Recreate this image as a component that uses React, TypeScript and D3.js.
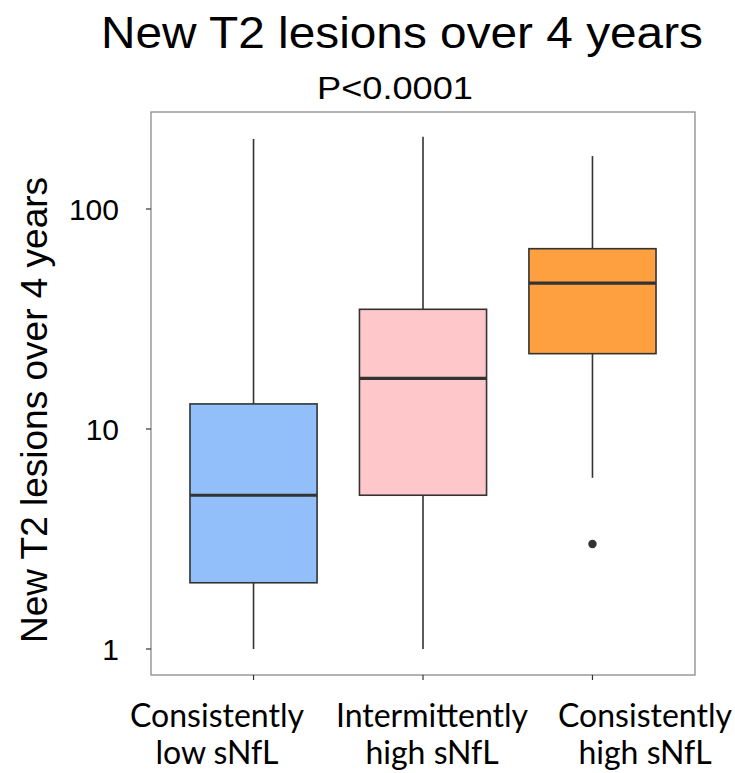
import React from "react";
import * as d3 from "d3";

// Group labels (two lines each) and five-number summaries per group
const groups = ["Consistently low sNfL", "Intermittently high sNfL", "Consistently high sNfL"];
const groupLines = [
  ["Consistently", "low sNfL"],
  ["Intermittently", "high sNfL"],
  ["Consistently", "high sNfL"],
];
const whiskerLow = [1, 1, 6];
const q1 = [2, 5, 22];
const median = [5, 17, 46];
const q3 = [13, 35, 66];
const whiskerHigh = [208, 213, 174];
const outliers = [[], [], [3]];
const fills = ["#92BFF9", "#FEC7C9", "#FFA040"];
const yTicks = [1, 10, 100];

const W = 735;
const H = 773;
const frame = { left: 151, right: 695, top: 112, bottom: 675 };
const labelCenters = [217, 432, 645];

export default function App() {
  const y = d3.scaleLog().domain([1, 100]).range([649, 209]);
  const x = d3
    .scalePoint<string>()
    .domain(groups)
    .range([frame.left, frame.right])
    .padding(0.605);
  const boxW = x.step() * 0.75;
  const stroke = "#333333";

  return (
    <svg
      width={W}
      height={H}
      style={{ position: "absolute", left: 0, top: 0, background: "#fff" }}
    >
      <text
        x={402}
        y={48}
        textAnchor="middle"
        fontFamily="Liberation Sans, Arial, sans-serif"
        fontSize={44}
        textLength={602}
        lengthAdjust="spacingAndGlyphs"
        fill="#000"
      >
        New T2 lesions over 4 years
      </text>
      <text
        x={395}
        y={99}
        textAnchor="middle"
        fontFamily="Liberation Sans, Arial, sans-serif"
        fontSize={32}
        textLength={156}
        lengthAdjust="spacingAndGlyphs"
        fill="#000"
      >
        P&lt;0.0001
      </text>
      <text
        transform={`translate(47,410) rotate(-90)`}
        textAnchor="middle"
        fontFamily="Liberation Sans, Arial, sans-serif"
        fontSize={37}
        fill="#000"
      >
        New T2 lesions over 4 years
      </text>

      {/* plot frame */}
      <rect
        x={frame.left}
        y={frame.top}
        width={frame.right - frame.left}
        height={frame.bottom - frame.top}
        fill="none"
        stroke="#808080"
        strokeWidth={1.2}
      />

      {/* y axis ticks */}
      {yTicks.map((t) => (
        <g key={t}>
          <line x1={frame.left - 5} x2={frame.left} y1={y(t)} y2={y(t)} stroke={stroke} strokeWidth={1.2} />
          <text
            x={119}
            y={y(t)}
            dy="0.36em"
            textAnchor="end"
            fontFamily="Liberation Sans, Arial, sans-serif"
            fontSize={30}
            fill="#000"
          >
            {t}
          </text>
        </g>
      ))}

      {/* x axis ticks */}
      {groups.map((g) => (
        <line
          key={g}
          x1={x(g)}
          x2={x(g)}
          y1={frame.bottom}
          y2={frame.bottom + 5}
          stroke={stroke}
          strokeWidth={1.2}
        />
      ))}

      {/* boxes */}
      {groups.map((g, i) => {
        const cx = x(g) as number;
        return (
          <g key={g}>
            <line x1={cx} x2={cx} y1={y(whiskerHigh[i])} y2={y(q3[i])} stroke={stroke} strokeWidth={1.6} />
            <line x1={cx} x2={cx} y1={y(q1[i])} y2={y(whiskerLow[i])} stroke={stroke} strokeWidth={1.6} />
            <rect
              x={cx - boxW / 2}
              y={y(q3[i])}
              width={boxW}
              height={y(q1[i]) - y(q3[i])}
              fill={fills[i]}
              stroke={stroke}
              strokeWidth={1.6}
            />
            <line
              x1={cx - boxW / 2}
              x2={cx + boxW / 2}
              y1={y(median[i])}
              y2={y(median[i])}
              stroke={stroke}
              strokeWidth={3.2}
            />
            {outliers[i].map((o, j) => (
              <circle key={j} cx={cx} cy={y(o)} r={4.2} fill={stroke} />
            ))}
          </g>
        );
      })}

      {/* group labels */}
      {groupLines.map((lines, i) => (
        <text
          key={i}
          textAnchor="middle"
          fontFamily="Lato, Carlito, Calibri, sans-serif"
          fontSize={32}
          fill="#000"
        >
          {lines.map((l, k) => (
            <tspan key={k} x={labelCenters[i]} y={727 + k * 37}>
              {l}
            </tspan>
          ))}
        </text>
      ))}
    </svg>
  );
}
